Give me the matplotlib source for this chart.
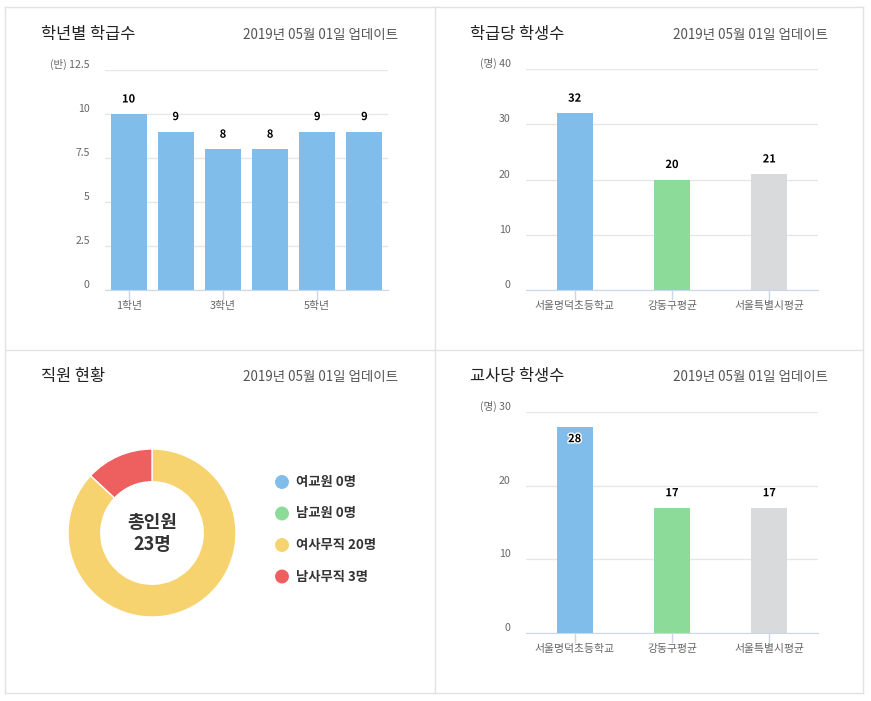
import numpy as np
import matplotlib.pyplot as plt
from matplotlib import patheffects
from matplotlib.lines import Line2D

plt.rcParams['font.family'] = ['Noto Sans CJK KR', 'DejaVu Sans']

# 데이터
update_text = '2019년 05월 01일 업데이트'

grades = ['1학년', '2학년', '3학년', '4학년', '5학년', '6학년']
classes = [10, 9, 8, 8, 9, 9]

compare_cats = ['서울명덕초등학교', '강동구평균', '서울특별시평균']
students_per_class = [32, 20, 21]
students_per_teacher = [28, 17, 17]

staff_names = ['여교원', '남교원', '여사무직', '남사무직']
staff_counts = [0, 0, 20, 3]

BLUE, GREEN, GREY = '#80bdea', '#8cdb98', '#d9dadc'
YELLOW, RED = '#f6d36e', '#ee5f5f'
staff_colors = [BLUE, GREEN, YELLOW, RED]

W, H = 871, 701


def box(left, top, right, bottom):
    # 픽셀 좌표 -> figure 비율
    return [left / W, 1 - bottom / H, (right - left) / W, (bottom - top) / H]


fig = plt.figure(figsize=(W / 100, H / 100), dpi=100)

# 패널 테두리
bc = '#e2e2e2'
for xs, ys in [([5, 863], [7, 7]), ([5, 863], [693, 693]), ([5, 5], [7, 693]),
               ([863, 863], [7, 693]), ([434.5, 434.5], [7, 693]), ([5, 863], [350, 350])]:
    fig.add_artist(Line2D([x / W for x in xs], [1 - y / H for y in ys], color=bc, lw=1))

# 제목과 날짜
titles = [('학년별 학급수', 41, 398, 35), ('학급당 학생수', 470, 828, 35),
          ('직원 현황', 41, 398, 377), ('교사당 학생수', 470, 828, 377)]
for t, xl, xr, y in titles:
    fig.text(xl / W, 1 - y / H, t, fontsize=11.8, color='#222222', va='center', ha='left')
    fig.text(xr / W, 1 - y / H, update_text, fontsize=9.7, color='#555555', va='center', ha='right')


def bar_panel(ax, cats, vals, colors, width, ymax, ystep, unit, tick_every=1):
    x = np.arange(len(cats))
    ax.bar(x, vals, width=width, color=colors, zorder=2)
    ax.set_xlim(-0.5, len(cats) - 0.5)
    ax.set_ylim(0, ymax)
    yt = np.arange(0, ymax + ystep / 2, ystep)
    ax.set_yticks(yt)
    labels = [f'{v:g}' for v in yt]
    labels[-1] = f'({unit}) ' + labels[-1]
    ax.set_yticklabels(labels)
    for lbl in ax.get_yticklabels():
        lbl.set_va('bottom')
    ax.tick_params(axis='y', length=0, pad=11, labelsize=7.6, labelcolor='#666666')
    ax.yaxis.grid(True, color='#e6e6e6', lw=1)
    ax.set_axisbelow(True)
    for s in ['left', 'right', 'top']:
        ax.spines[s].set_visible(False)
    ax.spines['bottom'].set_color('#ccd6eb')
    ax.set_xticks(x[::tick_every])
    ax.set_xticklabels(cats[::tick_every])
    ax.tick_params(axis='x', length=7, width=1, color='#ccd6eb', pad=1,
                   labelsize=7.8, labelcolor='#666666')
    for xi, v in zip(x, vals):
        off = -8.6 if v / ymax > 0.9 else 10.8
        ax.annotate(str(v), (xi, v), xytext=(0, off), textcoords='offset points',
                    ha='center', va='center', fontsize=8, fontweight='bold', color='black',
                    path_effects=[patheffects.withStroke(linewidth=2, foreground='white')])


ax1 = fig.add_axes(box(105, 70, 388, 290))
bar_panel(ax1, grades, classes, BLUE, 0.76, 12.5, 2.5, '반', tick_every=2)

ax2 = fig.add_axes(box(526, 69, 818, 290))
bar_panel(ax2, compare_cats, students_per_class, [BLUE, GREEN, GREY], 0.37, 40, 10, '명')

ax4 = fig.add_axes(box(526, 412, 818, 633))
bar_panel(ax4, compare_cats, students_per_teacher, [BLUE, GREEN, GREY], 0.37, 30, 10, '명')

# 도넛 차트
ax3 = fig.add_axes(box(68, 449, 236, 617))
nz = [(c, col) for c, col in zip(staff_counts, staff_colors) if c > 0]
ax3.pie([c for c, _ in nz], colors=[col for _, col in nz], startangle=90, counterclock=False,
        radius=1, wedgeprops=dict(width=0.39, edgecolor='white', linewidth=1))
ax3.set_xlim(-1, 1)
ax3.set_ylim(-1, 1)
ax3.text(0, 0, f'총인원\n{sum(staff_counts)}명', ha='center', va='center', fontsize=13,
         fontweight='bold', color='#333333', linespacing=1.2)

# 범례
lax = fig.add_axes(box(270, 465, 430, 595))
lax.set_xlim(0, 160)
lax.set_ylim(130, 0)
lax.axis('off')
for i, (name, cnt, col) in enumerate(zip(staff_names, staff_counts, staff_colors)):
    yy = 17 + i * 31.5
    lax.scatter([12], [yy], s=100, color=col, edgecolors='none')
    lax.text(26, yy, f'{name} {cnt}명', va='center', ha='left', fontsize=9.6,
             fontweight='bold', color='#333333')

fig.savefig('out.png', dpi=100)
